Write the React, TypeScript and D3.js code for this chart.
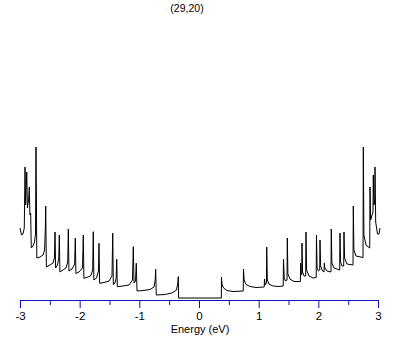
import React, { useEffect, useRef } from 'react';
import * as d3 from 'd3';

const title = '(29,20)';
const xLabel = 'Energy (eV)';
const majorTicks = [-3, -2, -1, 0, 1, 2, 3];
const minorTicks = [-2.5, -1.5, -0.5, 0.5, 1.5, 2.5];

// density of states (arbitrary units)
const energy = [
  -3.0, -2.975, -2.95, -2.928, -2.916, -2.906, -2.887, -2.876, -2.856, -2.844, -2.834, -2.821, -2.811,
  -2.782, -2.757, -2.74, -2.732, -2.718, -2.665, -2.614, -2.588, -2.576, -2.569, -2.558,
  -2.497, -2.447, -2.423, -2.413, -2.403, -2.372, -2.35, -2.341, -2.331,
  -2.279, -2.229, -2.2, -2.19, -2.18, -2.128, -2.084, -2.073, -2.063,
  -2.011, -1.952, -1.939, -1.929, -1.86, -1.81, -1.782, -1.772, -1.762,
  -1.718, -1.685, -1.676, -1.666, -1.592, -1.508, -1.458, -1.446, -1.436,
  -1.408, -1.388, -1.379, -1.369, -1.274, -1.173, -1.115, -1.101, -1.089,
  -1.064, -1.051, -1.039, -0.939, -0.821, -0.754, -0.734, -0.726, -0.716,
  -0.57, -0.453, -0.377, -0.355, -0.347, -0.342,
  0.374, 0.377, 0.385, 0.411, 0.469, 0.57, 0.741, 0.746, 0.756, 0.788, 0.855, 0.955,
  1.093, 1.098, 1.106, 1.13, 1.135, 1.145, 1.173, 1.24, 1.341, 1.411, 1.416, 1.428,
  1.45, 1.475, 1.48, 1.49, 1.525, 1.592, 1.699, 1.704, 1.713, 1.723, 1.726, 1.736,
  1.76, 1.788, 1.793, 1.803, 1.843, 1.91, 1.964, 1.969, 1.979, 2.003, 2.023, 2.028,
  2.038, 2.07, 2.095, 2.1, 2.11, 2.145, 2.212, 2.217, 2.227, 2.262, 2.358, 2.363,
  2.373, 2.396, 2.425, 2.43, 2.44, 2.48, 2.581, 2.586, 2.596, 2.631, 2.749, 2.754,
  2.764, 2.799, 2.861, 2.866, 2.876, 2.916, 2.921, 2.933, 2.945, 2.95, 2.961, 2.992,
  3.017, 3.033
];
const dos = [
  7.0, 6.3, 6.4, 7.0, 13.1, 9.3, 12.6, 9.0, 9.8, 11.1, 8.3, 8.5, 5.0,
  5.2, 5.6, 6.4, 15.1, 4.0, 4.1, 4.3, 4.8, 6.8, 9.2, 3.1,
  3.3, 3.5, 4.0, 6.6, 3.0, 3.3, 4.0, 6.3, 2.6,
  2.8, 3.0, 3.6, 6.9, 2.7, 2.9, 3.4, 6.0, 2.45,
  2.6, 3.0, 6.3, 1.97, 2.1, 2.25, 2.8, 6.63, 1.8,
  2.0, 2.7, 5.47, 1.47, 1.55, 1.7, 2.2, 6.5, 1.35,
  1.5, 2.0, 3.87, 1.13, 1.2, 1.3, 1.8, 5.13, 1.5,
  1.7, 3.47, 0.7, 0.75, 0.85, 1.1, 1.8, 2.87, 0.3,
  0.35, 0.5, 0.8, 1.5, 2.13, 0.0,
  0.0, 2.1, 1.4, 1.0, 0.75, 0.65, 0.7, 2.9, 1.8, 1.35, 1.15, 1.05,
  1.1, 1.9, 1.3, 1.5, 5.1, 1.8, 1.4, 1.2, 1.15, 1.2, 3.9, 2.0,
  1.7, 1.8, 6.0, 2.4, 1.9, 1.65, 1.65, 3.5, 2.3, 2.4, 5.5, 2.6,
  2.2, 2.2, 6.6, 2.8, 2.2, 2.0, 2.05, 6.3, 3.0, 2.7, 2.8, 5.8,
  3.2, 2.7, 2.6, 3.5, 3.0, 2.7, 2.6, 6.9, 3.5, 3.0, 2.8, 6.5,
  3.6, 3.2, 3.2, 6.6, 4.0, 3.4, 3.3, 9.2, 4.8, 4.2, 4.05, 15.1,
  6.3, 5.3, 5.0, 11.1, 7.8, 8.6, 12.3, 9.3, 9.8, 13.1, 7.6, 6.4,
  6.4, 7.0
];

const W = 409;
const H = 345;

const App = () => {
  const ref = useRef<SVGSVGElement>(null);

  useEffect(() => {
    document.body.style.margin = '0';
    const svg = d3.select(ref.current);
    svg.selectAll('*').remove();

    const x = d3.scaleLinear().domain([-3, 3]).range([20, 378]);
    const y = d3.scaleLinear().domain([0, 16]).range([298, 138]);
    const axisY = 300;

    const points: [number, number][] = energy.map((e, i) => [e, dos[i]]);
    const line = d3
      .line<[number, number]>()
      .x((d) => x(d[0]))
      .y((d) => y(d[1]));

    svg
      .append('path')
      .attr('d', line(points))
      .attr('fill', 'none')
      .attr('stroke', '#000')
      .attr('stroke-width', 1);

    const blue = '#1010c0';

    svg
      .append('g')
      .attr('transform', `translate(0,${axisY})`)
      .call(d3.axisBottom(x).tickValues(minorTicks).tickSize(5).tickSizeOuter(0).tickFormat(() => ''))
      .call((g) => g.select('.domain').remove())
      .selectAll('line')
      .attr('stroke', blue);

    const major = svg
      .append('g')
      .attr('transform', `translate(0,${axisY})`)
      .call(
        d3
          .axisBottom(x)
          .tickValues(majorTicks)
          .tickSize(8)
          .tickSizeOuter(0)
          .tickPadding(4)
          .tickFormat((d) => String(d))
      );
    major.select('.domain').attr('stroke', blue);
    major.selectAll('line').attr('stroke', blue);
    major
      .selectAll('text')
      .attr('fill', '#000')
      .style('font-family', 'Liberation Sans, Arial, sans-serif')
      .style('font-size', '11.5px');

    svg
      .append('text')
      .attr('x', 200)
      .attr('y', 333)
      .attr('text-anchor', 'middle')
      .style('font-family', 'Liberation Sans, Arial, sans-serif')
      .style('font-size', '11px')
      .text(xLabel);

    svg
      .append('text')
      .attr('x', 187)
      .attr('y', 12)
      .attr('text-anchor', 'middle')
      .style('font-family', 'Liberation Sans, Arial, sans-serif')
      .style('font-size', '10.5px')
      .text(title);
  }, []);

  return <svg ref={ref} width={W} height={H} style={{ display: 'block', background: '#fff' }} />;
};

export default App;
